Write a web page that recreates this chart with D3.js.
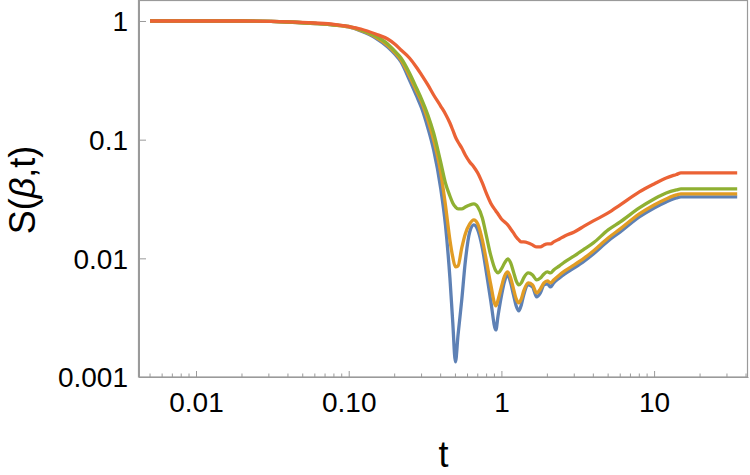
<!DOCTYPE html>
<html><head><meta charset="utf-8">
<script src="https://cdn.jsdelivr.net/npm/d3@7"></script>
<style>html,body{margin:0;padding:0;background:#fff;} svg{display:block;font-family:"Liberation Sans",Arial,sans-serif;}</style>
</head><body><svg id="c" width="750" height="475"></svg>
<script>
const tValues = [0.005,0.01,0.02,0.04,0.06,0.08,0.1,0.12,0.15,0.18,0.2,0.22,0.25,0.28,0.3,0.33,0.36,0.4,0.43,0.46,0.48,0.5,0.52,0.55,0.58,0.62,0.66,0.7,0.75,0.8,0.85,0.92,0.95,1.0,1.05,1.1,1.15,1.2,1.25,1.3,1.35,1.4,1.5,1.6,1.7,1.8,1.9,2.0,2.1,2.2,2.4,2.6,3,3.5,4,5,6,8,10,12,14,15,20,25,30,35];

const seriesBlue = [1,1,1,0.981,0.953,0.925,0.890,0.824,0.719,0.604,
0.527,0.4515,0.318,0.229,0.185,0.1255,0.0819,0.03917,0.01912,0.006838,
0.002912,0.00134,0.002263,0.004462,0.009326,0.01669,0.01912,0.01735,0.01224,0.007388,
0.004462,0.002493,0.003271,0.004822,0.006451,0.007248,0.006206,0.004916,0.003972,0.003605,
0.00405,0.004916,0.00597,0.005742,0.004729,0.00511,0.00597,0.006087,0.005742,0.006206,
0.006838,0.007388,0.008299,0.009508,0.01089,0.01402,0.01669,0.02233,0.02658,0.02987,
0.03227,0.03291,0.03291,0.03291,0.03291,0.03291];

const seriesOrange = [1,1,1,0.981,0.953,0.925,0.890,0.832,0.733,0.622,
0.543,0.469,0.344,0.252,0.208,0.1466,0.0994,0.0534,0.02818,0.01429,
0.01028,0.008463,0.00863,0.01224,0.01606,0.01949,0.02106,0.01949,0.01429,0.009326,
0.006087,0.003972,0.004462,0.005742,0.007107,0.00768,0.006838,0.005524,0.00455,0.004209,
0.00455,0.005313,0.006206,0.00597,0.00511,0.005524,0.006206,0.006451,0.006206,0.006577,
0.007248,0.007832,0.008799,0.01008,0.01154,0.01485,0.01769,0.02366,0.02818,0.03166,
0.03421,0.03487,0.03487,0.03487,0.03487,0.03487];

const seriesGreen = [1,1,1,0.981,0.956,0.929,0.899,0.840,0.747,0.640,
0.559,0.488,0.365,0.267,0.220,0.1614,0.1139,0.0649,0.04317,0.03354,
0.02929,0.0271,0.02607,0.02607,0.0271,0.02818,0.02873,0.0271,0.0219,0.01514,
0.01068,0.007832,0.007534,0.008142,0.009148,0.009883,0.009148,0.00768,0.006451,0.00597,
0.006206,0.006838,0.007534,0.007248,0.006577,0.006838,0.007388,0.00768,0.007534,0.007986,
0.00863,0.009326,0.01047,0.012,0.01348,0.01735,0.02026,0.02658,0.03166,0.03556,
0.0377,0.03843,0.03843,0.03843,0.03843,0.03843];

const seriesRed = [1,1,1,0.985,0.962,0.938,0.899,0.856,0.777,0.705,
0.640,0.570,0.488,0.402,0.351,0.289,0.238,0.192,0.1647,0.1382,
0.1207,0.1054,0.0956,0.0851,0.0743,0.0649,0.0589,0.0524,0.04317,0.03487,
0.02929,0.02508,0.02366,0.02147,0.02026,0.01912,0.01769,0.01637,0.01514,0.01429,
0.01374,0.01374,0.01348,0.01297,0.01247,0.01247,0.01297,0.01322,0.01322,0.01374,
0.01457,0.01544,0.01669,0.01875,0.02066,0.02413,0.02818,0.03626,0.04234,0.04756,
0.05089,0.0524,0.0524,0.0524,0.0524,0.0524];

const xTickValues = [0.01, 0.1, 1, 10];
const xTickLabels = ["0.01", "0.10", "1", "10"];
const yTickValues = [0.001, 0.01, 0.1, 1];
const yTickLabels = ["0.001", "0.01", "0.1", "1"];
const xMinorTicks = [0.005,0.006,0.007,0.008,0.009,0.02,0.03,0.04,0.05,0.06,0.07,0.08,0.09,0.2,0.3,0.4,0.5,0.6,0.7,0.8,0.9,2,3,4,5,6,7,8,9,20,30,40];
const xLabel = "t";

const series = [
  {name: "blue", values: seriesBlue, color: "#5E81B5"},
  {name: "orange", values: seriesOrange, color: "#E19C24"},
  {name: "green", values: seriesGreen, color: "#8FB032"},
  {name: "red", values: seriesRed, color: "#EB6235"}
];

const svg = d3.select("#c");
const L = 139, R = 748, T = 0, B = 377;
const x = d3.scaleLog().domain([0.004233, 41.2]).range([L, R]);
const y = d3.scaleLog().domain([0.001, 1.503]).range([B, T]);
const frameColor = "#9a9a9a";

// frame
svg.append("rect").attr("x", L - 0.5).attr("y", T + 0.5).attr("width", R - L).attr("height", B - T - 0.5)
  .attr("fill", "none").attr("stroke", frameColor).attr("stroke-width", 1.2);

// x axis
const xAxis = svg.append("g").attr("transform", `translate(0,${B})`)
  .call(d3.axisBottom(x).tickValues(xTickValues).tickFormat((d, i) => xTickLabels[i]).tickSizeInner(-6).tickSizeOuter(0).tickPadding(15));
xAxis.select(".domain").attr("stroke", frameColor);
xAxis.selectAll(".tick line").attr("stroke", frameColor);
xAxis.selectAll("text").attr("font-size", 28).attr("fill", "#000").attr("font-family", "Liberation Sans, Arial, sans-serif");
svg.append("g").selectAll("line").data(xMinorTicks).join("line")
  .attr("x1", d => x(d)).attr("x2", d => x(d)).attr("y1", B).attr("y2", B - 3.5)
  .attr("stroke", frameColor).attr("stroke-width", 1);

// y axis
const yAxis = svg.append("g").attr("transform", `translate(${L},0)`)
  .call(d3.axisLeft(y).tickValues(yTickValues).tickFormat((d, i) => yTickLabels[i]).tickSizeInner(-7).tickSizeOuter(0).tickPadding(11));
yAxis.select(".domain").attr("stroke", frameColor);
yAxis.selectAll(".tick line").attr("stroke", frameColor);
yAxis.selectAll("text").attr("font-size", 28).attr("fill", "#000").attr("dy", "0.35em").attr("font-family", "Liberation Sans, Arial, sans-serif");

// lines
const line = d3.line().x((d, i) => x(tValues[i])).y(d => y(d)).curve(d3.curveMonotoneX);
svg.append("g").selectAll("path").data(series).join("path")
  .attr("d", s => line(s.values))
  .attr("fill", "none").attr("stroke", s => s.color).attr("stroke-width", 3.3)
  .attr("stroke-linejoin", "round").attr("stroke-linecap", "butt");

// labels
svg.append("text").attr("x", (L + R) / 2).attr("y", 467).attr("text-anchor", "middle")
  .attr("font-size", 36).text(xLabel);
const yl = svg.append("text").attr("transform", "translate(35,190) rotate(-90)").attr("text-anchor", "middle")
  .attr("font-size", 36);
yl.append("tspan").text("S(");
yl.append("tspan").attr("font-style", "italic").text("β");
yl.append("tspan").text(",t)");
</script>
</body></html>
